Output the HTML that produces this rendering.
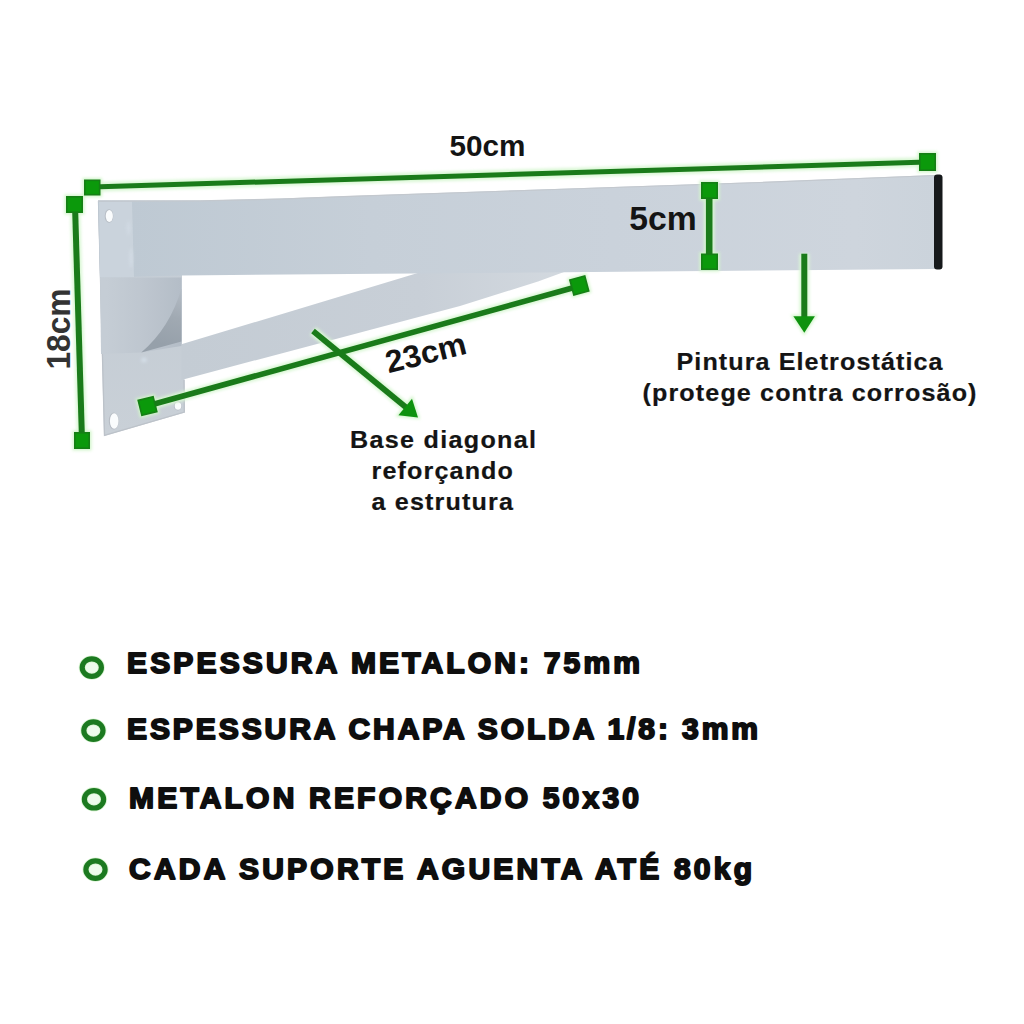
<!DOCTYPE html>
<html>
<head>
<meta charset="utf-8">
<style>
html,body{margin:0;padding:0;background:#fff;width:1024px;height:1024px;overflow:hidden;}
svg{display:block;position:absolute;left:0;top:0;}
text{font-family:"Liberation Sans",sans-serif;font-weight:bold;}
</style>
</head>
<body>
<svg width="1024" height="1024" viewBox="0 0 1024 1024">
  <rect x="0" y="0" width="1024" height="1024" fill="#ffffff"/>

  <!-- ===== BRACKET ===== -->
  <defs>
    <filter id="halo" filterUnits="userSpaceOnUse" x="0" y="0" width="1024" height="1024">
      <feGaussianBlur stdDeviation="1.4"/>
    </filter>
    <linearGradient id="barG" x1="130" y1="0" x2="935" y2="0" gradientUnits="userSpaceOnUse">
      <stop offset="0" stop-color="#bec9d3"/>
      <stop offset="0.3" stop-color="#c6cfd8"/>
      <stop offset="0.6" stop-color="#cad2db"/>
      <stop offset="0.9" stop-color="#ced5dd"/>
      <stop offset="1" stop-color="#cbd3db"/>
    </linearGradient>
    <linearGradient id="plateG" x1="0" y1="200" x2="0" y2="435" gradientUnits="userSpaceOnUse">
      <stop offset="0" stop-color="#c6ced6"/>
      <stop offset="0.5" stop-color="#c5cdd5"/>
      <stop offset="1" stop-color="#c9d0d7"/>
    </linearGradient>
    <linearGradient id="diagG" x1="182" y1="0" x2="580" y2="0" gradientUnits="userSpaceOnUse">
      <stop offset="0" stop-color="#c4ccd4"/>
      <stop offset="0.6" stop-color="#c8cfd7"/>
      <stop offset="1" stop-color="#d4dae0"/>
    </linearGradient>
    <linearGradient id="gusG" x1="106" y1="0" x2="181" y2="0" gradientUnits="userSpaceOnUse">
      <stop offset="0" stop-color="#c5cdd5"/>
      <stop offset="0.5" stop-color="#bec6cf"/>
      <stop offset="1" stop-color="#b4bdc7"/>
    </linearGradient>
    <linearGradient id="wedgeG" x1="165" y1="345" x2="181" y2="290" gradientUnits="userSpaceOnUse">
      <stop offset="0" stop-color="#96a0aa"/>
      <stop offset="0.5" stop-color="#a0a9b2"/>
      <stop offset="1" stop-color="#b4bcc5"/>
    </linearGradient>
  </defs>
  <g id="bracket">
    <!-- backplate -->
    <polygon points="98,200.5 182,201 182,379 184.5,379 185,412.5 104,436" fill="url(#plateG)"/>
    <polyline points="98.5,201 104.5,435.3 184.3,412 184,380" fill="none" stroke="#bcc2c9" stroke-width="1.3"/>
    <!-- diagonal brace -->
    <polygon points="181.4,344.3 421,272 421,266 600,266 564,272 538,281.5 460,306 181.4,379.9" fill="url(#diagG)"/>
    <!-- top bar -->
    <polygon points="98,200.6 200,200.4 280,198.6 350,195.9 540,189.5 760,182 935,175 935,269 181,275.5 100,277.5" fill="url(#barG)"/>
    <!-- weld highlight -->
    <polygon points="99,202 132,201.5 134,277 100,277.5" fill="#cfd7df" opacity="0.7"/>
    <g fill="#d6dfe8" opacity="0.6" filter="url(#halo)">
      <ellipse cx="128.5" cy="228" rx="1.8" ry="7"/>
      <ellipse cx="131" cy="258" rx="2" ry="10"/>
    </g>
    <!-- gusset area -->
    <polygon points="100,277.8 181.4,277.5 181.4,346 141,352.5 101,354" fill="url(#gusG)"/>
    <path d="M141.3,352.4 Q170,328 181.4,288.5 L181.4,341.5 Z" fill="url(#wedgeG)"/>
    <ellipse cx="144" cy="360" rx="3" ry="2.5" fill="#d3dde6" filter="url(#halo)"/>
    <polyline points="98,201.1 200,200.9 280,199.1 350,196.4 540,190 760,182.5 935,175.5" fill="none" stroke="#c3c8ce" stroke-width="1.2"/>
    <!-- end cap -->
    <rect x="934" y="174.5" width="8.5" height="95" rx="3" fill="#16191b"/>
    <!-- holes -->
    <ellipse cx="109" cy="216" rx="4.3" ry="6.8" fill="#b6bcc4"/>
    <ellipse cx="113.8" cy="421" rx="5" ry="8.6" fill="#b6bcc4"/>
    <ellipse cx="177.8" cy="406" rx="4" ry="4.4" fill="#b6bcc4"/>
    <ellipse cx="109.3" cy="216" rx="3.6" ry="6.1" fill="#fafcfd"/>
    <ellipse cx="114.2" cy="421" rx="4.3" ry="7.8" fill="#fafcfd"/>
    <ellipse cx="178" cy="406" rx="3.3" ry="3.7" fill="#fafcfd"/>
  </g>

  <!-- ===== GREEN DIMENSIONS ===== -->
  <g id="dims" stroke-linecap="butt">
    <!-- halos -->
    <g stroke="#d9f7d4" fill="none" filter="url(#halo)">
      <line x1="92" y1="187" x2="927.5" y2="162" stroke-width="9.5"/>
      <line x1="75" y1="205" x2="82" y2="440" stroke-width="10"/>
      <line x1="147" y1="406" x2="579.5" y2="286" stroke-width="9.5"/>
      <line x1="709.2" y1="190" x2="709.2" y2="262" stroke-width="10.5"/>
      <line x1="313" y1="331" x2="408" y2="409" stroke-width="9.5"/>
      <line x1="804.3" y1="253.7" x2="804.3" y2="320" stroke-width="10"/>
    </g>
    <g fill="#d2f5cb" stroke="#d2f5cb" stroke-width="3" filter="url(#halo)">
      <rect x="84" y="179.5" width="16.5" height="16"/>
      <rect x="919" y="153" width="17" height="18"/>
      <rect x="66" y="196" width="17" height="17"/>
      <rect x="74" y="432" width="16" height="17"/>
      <rect x="701" y="182" width="17" height="17"/>
      <rect x="701" y="253.5" width="17" height="16.5"/>
      <rect x="-8.5" y="-8.5" width="17" height="17" transform="translate(147.5,406) rotate(-14)"/>
      <rect x="-8.5" y="-8.5" width="17" height="17" transform="translate(579.3,285.5) rotate(-15)"/>
      <polygon points="398.4,415.3 412,398.7 418,417.6"/>
      <polygon points="793.4,316.2 814.9,316.2 804.3,332.8"/>
    </g>
    <!-- cores -->
    <g stroke="#1a7b1a" fill="none">
      <line x1="92" y1="187" x2="927.5" y2="162" stroke-width="5"/>
      <line x1="75" y1="205" x2="82" y2="440" stroke-width="6"/>
      <line x1="147" y1="406" x2="579.5" y2="286" stroke-width="5.6"/>
      <line x1="709.2" y1="190" x2="709.2" y2="262" stroke-width="6.6"/>
      <line x1="313" y1="331" x2="408" y2="409" stroke-width="5.8"/>
      <line x1="804.3" y1="253.7" x2="804.3" y2="320" stroke-width="6"/>
    </g>
    <g fill="#0b990b" stroke="#157f15" stroke-width="1.6">
      <rect x="84.8" y="180.3" width="14.9" height="14.4"/>
      <rect x="919.8" y="153.8" width="15.4" height="16.4"/>
      <rect x="66.8" y="196.8" width="15.4" height="15.4"/>
      <rect x="74.8" y="432.8" width="14.4" height="15.4"/>
      <rect x="701.8" y="182.8" width="15.4" height="15.4"/>
      <rect x="701.8" y="254.3" width="15.4" height="14.9"/>
      <rect x="-7.7" y="-7.7" width="15.4" height="15.4" transform="translate(147.5,406) rotate(-14)"/>
      <rect x="-7.7" y="-7.7" width="15.4" height="15.4" transform="translate(579.3,285.5) rotate(-15)"/>
    </g>
    <g fill="#0e920e">
      <polygon points="398.4,415.3 412,398.7 418,417.6"/>
      <polygon points="793.4,316.2 814.9,316.2 804.3,332.8"/>
    </g>
  </g>

  <!-- ===== DIM LABELS ===== -->
  <g fill="#141414">
    <text x="449.4" y="155.6" font-size="30" textLength="76" lengthAdjust="spacingAndGlyphs">50cm</text>
    <text x="629.3" y="229.6" font-size="33" textLength="67.5" lengthAdjust="spacingAndGlyphs">5cm</text>
    <text transform="translate(388.6,373.2) rotate(-14)" font-size="31.5" textLength="82" lengthAdjust="spacingAndGlyphs">23cm</text>
    <text transform="translate(69.8,369.6) rotate(-90)" font-size="32.5" fill="#333333" textLength="81" lengthAdjust="spacingAndGlyphs">18cm</text>
  </g>

  <g fill="#141414" font-size="23.5" stroke="#141414" stroke-width="0.2">
    <text transform="translate(676.5,369.8) scale(1.07,1)" x="0" y="0" textLength="248.60" lengthAdjust="spacing">Pintura Eletrostática</text>
    <text transform="translate(642.5,400.5) scale(1.07,1)" x="0" y="0" textLength="312.15" lengthAdjust="spacing">(protege contra corrosão)</text>
    <text transform="translate(350,448) scale(1.07,1)" x="0" y="0" textLength="173.83" lengthAdjust="spacing">Base diagonal</text>
    <text transform="translate(371.5,479.2) scale(1.07,1)" x="0" y="0" textLength="132.24" lengthAdjust="spacing">reforçando</text>
    <text transform="translate(371.5,509.9) scale(1.07,1)" x="0" y="0" textLength="132.24" lengthAdjust="spacing">a estrutura</text>
  </g>

  <!-- ===== BULLETS ===== -->
  <g fill="#eefbec" stroke="#dcf6d6" stroke-width="7">
    <ellipse cx="91.8" cy="667.6" rx="9.6" ry="8.7"/>
    <ellipse cx="93.4" cy="730.6" rx="9.6" ry="8.7"/>
    <ellipse cx="94" cy="799.3" rx="9.6" ry="8.7"/>
    <ellipse cx="95.5" cy="869.6" rx="9.6" ry="8.7"/>
  </g>
  <g fill="none" stroke="#1c7a20" stroke-width="5.2">
    <ellipse cx="91.8" cy="667.6" rx="9.6" ry="8.7"/>
    <ellipse cx="93.4" cy="730.6" rx="9.6" ry="8.7"/>
    <ellipse cx="94" cy="799.3" rx="9.6" ry="8.7"/>
    <ellipse cx="95.5" cy="869.6" rx="9.6" ry="8.7"/>
  </g>
  <g fill="#0e0e0e" font-size="28.6" stroke="#0e0e0e" stroke-width="1.8" stroke-linejoin="round">
    <text transform="translate(127.0,672.6) scale(1.05,1)" x="0" y="0" textLength="488.57" lengthAdjust="spacing">ESPESSURA METALON: 75mm</text>
    <text transform="translate(127.0,738.6) scale(1.05,1)" x="0" y="0" textLength="600.95" lengthAdjust="spacing">ESPESSURA CHAPA SOLDA 1/8: 3mm</text>
    <text transform="translate(129.0,808.2) scale(1.05,1)" x="0" y="0" textLength="485.71" lengthAdjust="spacing">METALON REFORÇADO 50x30</text>
    <text transform="translate(129.0,879.2) scale(1.05,1)" x="0" y="0" textLength="593.33" lengthAdjust="spacing">CADA SUPORTE AGUENTA ATÉ 80kg</text>
  </g>
</svg>
</body>
</html>
